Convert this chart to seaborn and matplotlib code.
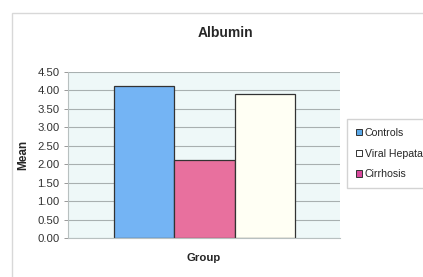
import matplotlib
matplotlib.use("Agg")
import matplotlib.pyplot as plt
import seaborn as sns
import pandas as pd
from matplotlib.patches import Rectangle, Patch

groups = ["Controls", "Cirrhosis", "Viral Hepatatis"]
means = [4.12, 2.11, 3.91]
colors = ["#74B4F4", "#E8709E", "#FFFFF4"]
legend_order = ["Controls", "Viral Hepatatis", "Cirrhosis"]
legend_colors = {"Controls": "#5AA8E8", "Viral Hepatatis": "#FFFFFF", "Cirrhosis": "#D8489C"}
yticks = [0.0, 0.5, 1.0, 1.5, 2.0, 2.5, 3.0, 3.5, 4.0, 4.5]

sns.set_theme(style="white")
plt.rcParams['font.family'] = ['Liberation Sans', 'DejaVu Sans']

df = pd.DataFrame({"Group": groups, "Mean": means})
pal = dict(zip(groups, colors))

fig = plt.figure(figsize=(4.23, 2.77), dpi=100)
fig.patch.set_facecolor("white")
fig.patches.append(Rectangle((12/423, -0.2), 1.2, 1.2 - 13/277, transform=fig.transFigure,
                             fill=False, edgecolor="#D8D8D8", linewidth=1.0))

ax = fig.add_axes([68/423, 39/277, 272/423, 166/277])
ax.set_facecolor("#EEF8F8")
sns.barplot(data=df, x="Group", y="Mean", hue="Group", palette=pal, order=groups,
            width=1.0, dodge=False, legend=False, ax=ax, saturation=1,
            edgecolor="#333333", linewidth=0.9)
ax.set_xlim(-1.263, 3.246)
ax.set_ylim(0, 4.5)
ax.set_yticks(yticks)
ax.set_yticklabels([f"{v:.2f}" for v in yticks], fontsize=8.2, color="#333333")
ax.set_xticks([])
ax.yaxis.grid(True, color="#A8B0B0", linewidth=0.8)
ax.set_axisbelow(True)
for s in ["top", "right"]:
    ax.spines[s].set_visible(False)
ax.spines["left"].set_color("#B8C0C0")
ax.spines["bottom"].set_color("#B8C0C0")
ax.spines["left"].set_linewidth(0.8)
ax.spines["bottom"].set_linewidth(0.8)
ax.tick_params(axis="y", length=3, width=0.6, color="#888888", pad=3, left=True)
ax.set_xlabel("Group", fontsize=8.2, fontweight="bold", labelpad=11)
ax.set_ylabel("Mean", fontsize=8.5, fontweight="bold", labelpad=6)
fig.text(225/423, 1 - 33/277, "Albumin", ha="center", va="center", fontsize=10, fontweight="bold")

handles = [Patch(facecolor=legend_colors[g], edgecolor="#333333", linewidth=0.7) for g in legend_order]
fig.legend(handles, legend_order, loc="upper left", bbox_to_anchor=(347/423, 1 - 119/277),
           fontsize=7.6, frameon=True, fancybox=False, edgecolor="#C8C8C8",
           handlelength=0.55, handleheight=0.55, handletextpad=0.3, borderpad=0.85,
           labelspacing=1.0, borderaxespad=0)

fig.savefig("out.png", dpi=100)
